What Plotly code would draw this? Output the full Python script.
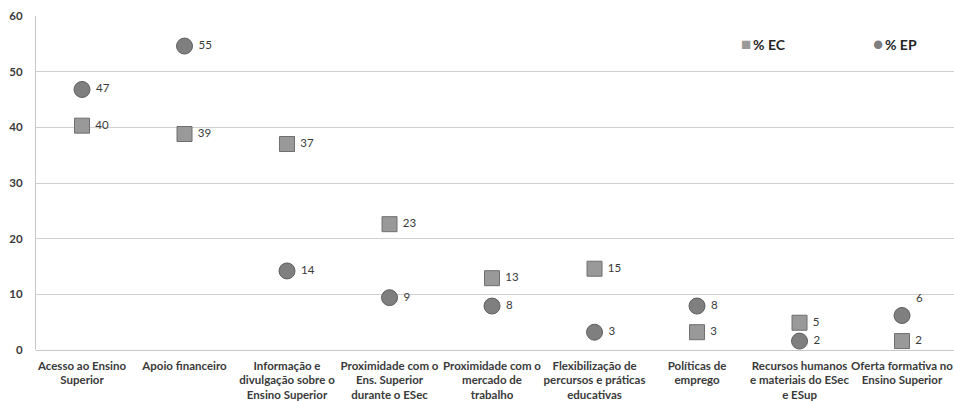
import plotly.graph_objects as go

# Categories (x axis) and the two percentage series
categories = [
    "Acesso ao Ensino<br>Superior",
    "Apoio financeiro",
    "Informação e<br>divulgação sobre o<br>Ensino Superior",
    "Proximidade com o<br>Ens. Superior<br>durante o ESec",
    "Proximidade com o<br>mercado de<br>trabalho",
    "Flexibilização de<br>percursos e práticas<br>educativas",
    "Políticas de<br>emprego",
    "Recursos humanos<br>e materiais do ESec<br>e ESup",
    "Oferta formativa no<br>Ensino Superior",
]
pct_ec = [40.3, 38.8, 37.0, 22.6, 12.9, 14.6, 3.2, 4.9, 1.6]
pct_ep = [46.8, 54.6, 14.2, 9.4, 7.9, 3.2, 7.9, 1.6, 6.2]
y_ticks = [0, 10, 20, 30, 40, 50, 60]

FONT = "Lato"
TXT = "#3a3a3a"
EC_COLOR = "#999999"
EP_COLOR = "#7f7f7f"

x_idx = list(range(len(categories)))

ep_pos = ["middle right"] * len(categories)
ep_pos[-1] = "top right"

fig = go.Figure()
fig.add_trace(go.Scatter(
    x=x_idx, y=pct_ec, mode="markers+text", name="% EC",
    marker=dict(symbol="square", size=15, color=EC_COLOR,
                line=dict(color="#6e6e6e", width=1)),
    texttemplate=" %{y:.0f}", textposition="middle right",
    textfont=dict(family=FONT, size=11.5, color=TXT),
    cliponaxis=False,
))
fig.add_trace(go.Scatter(
    x=x_idx, y=pct_ep, mode="markers+text", name="% EP",
    marker=dict(symbol="circle", size=16, color=EP_COLOR,
                line=dict(color="#5f5f5f", width=1)),
    texttemplate=" %{y:.0f}", textposition=ep_pos,
    textfont=dict(family=FONT, size=11.5, color=TXT),
    cliponaxis=False,
))

# Compact legend drawn as two text entries in the top-right corner
legend_font = dict(family=FONT, size=14, color="#262626", weight="bold")
fig.add_annotation(
    xref="paper", yref="paper", x=0.766, y=0.919,
    xanchor="left", yanchor="middle", showarrow=False,
    text=f'<span style="color:{EC_COLOR};font-size:17px">■</span>\u2009% EC',
    font=legend_font,
)
fig.add_annotation(
    xref="paper", yref="paper", x=0.910, y=0.919,
    xanchor="left", yanchor="middle", showarrow=False,
    text=f'<span style="color:{EP_COLOR};font-size:17px">●</span>\u2009% EP',
    font=legend_font,
)

fig.update_layout(
    width=954, height=401,
    margin=dict(l=36, r=0, t=16, b=51),
    paper_bgcolor="white", plot_bgcolor="white",
    showlegend=False,
    xaxis=dict(
        tickmode="array", tickvals=x_idx, ticktext=categories,
        range=[-0.449, 8.507], showgrid=False, zeroline=False,
        showline=False, tickangle=0, ticklabelstandoff=7,
        tickfont=dict(family=FONT, size=11.5, color=TXT, weight="bold"),
    ),
    yaxis=dict(
        range=[0, 60], tickmode="array", tickvals=y_ticks,
        showgrid=True, gridcolor="#d0d0d0", gridwidth=1,
        zeroline=True, zerolinecolor="#c8c8c8", zerolinewidth=1,
        showline=True, linecolor="#c8c8c8", linewidth=1,
        ticklabelstandoff=10,
        tickfont=dict(family=FONT, size=11.5, color=TXT, weight="bold"),
    ),
)

fig.write_html("out.html")
